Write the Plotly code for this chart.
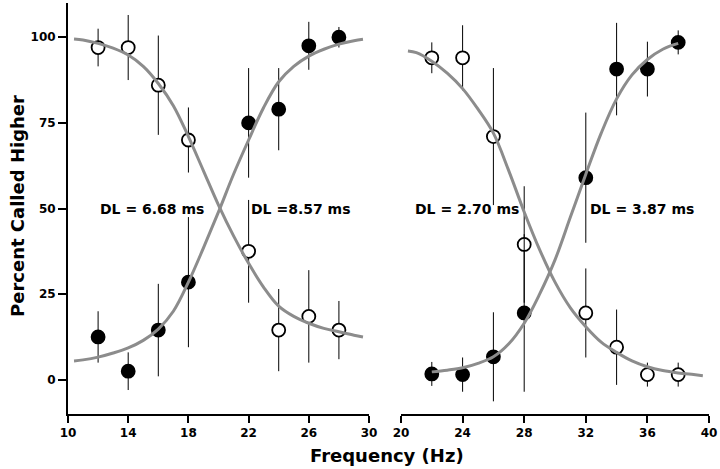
import plotly.graph_objects as go

# left panel (10-30 Hz)
left_x = [12, 14, 16, 18, 22, 24, 26, 28]
left_open_y = [97, 97, 86, 70, 37.5, 14.5, 18.5, 14.5]
left_open_err = [5.5, 9.5, 14.5, 9.5, 15, 12, 13.5, 8.5]
left_fill_y = [12.5, 2.5, 14.5, 28.5, 75, 79, 97.5, 100]
left_fill_err = [7.5, 5.5, 13.5, 19, 16, 12, 7, 3]

left_curve_x = [10.4, 11, 12, 13, 14, 15, 16, 17, 18, 19, 20, 21, 22, 23, 24, 25, 26, 27, 28, 29, 29.6]
left_down_y = [99.5, 99.2, 98.2, 96.8, 94.8, 91.5, 86.5, 80, 71, 61, 51, 42, 34, 27, 21.5, 18.5, 16.5, 15, 14, 13, 12.5]
left_up_y = [5.5, 5.8, 6.6, 7.8, 9.3, 11.5, 14.8, 20, 28.5, 38.5, 49, 60, 70, 79.5, 87, 91.5, 94.5, 96.5, 98, 99, 99.4]

# right panel (20-40 Hz)
right_x = [22, 24, 26, 28, 32, 34, 36, 38]
right_open_y = [94, 94, 71, 39.5, 19.5, 9.5, 1.5, 1.5]
right_open_err = [4.5, 9.5, 20, 17, 13, 11, 3.5, 3.5]
right_fill_y = [1.7, 1.5, 6.7, 19.5, 59, 90.7, 90.7, 98.5]
right_fill_err = [3.5, 5, 13, 23, 19, 13.5, 8, 3.5]

right_down_x = [20.45, 21, 22, 23, 24, 25, 26, 27, 28, 29, 30, 31, 32, 33, 34, 35, 36, 37, 38, 39, 39.6]
right_down_y = [96, 95.5, 93, 89.5, 85, 79, 72, 61, 49, 38, 28.5, 21, 15.5, 11, 8, 5.5, 3.8, 2.7, 2, 1.5, 1.2]
right_up_x = [22, 23, 24, 25, 26, 27, 28, 29, 30, 31, 32, 33, 34, 35, 36, 37, 38]
right_up_y = [2.3, 2.8, 3.5, 4.8, 6.7, 10.5, 16.5, 25, 35, 47.5, 60, 72, 82, 89, 93.5, 96.5, 98.2]

labels = ["DL = 6.68 ms", "DL =8.57 ms", "DL = 2.70 ms", "DL = 3.87 ms"]
label_x = [15.58, 25.48, 24.29, 35.65]
label_axes = ["x", "x", "x2", "x2"]

FONT = "DejaVu Sans"
CURVE = "#8c8c8c"

def points(x, y, err, filled, xa, ya):
    return go.Scatter(x=x, y=y, mode="markers", xaxis=xa, yaxis=ya, showlegend=False,
                      error_y=dict(type="data", array=err, visible=True, color="black", thickness=1, width=0),
                      marker=dict(size=13, color="black" if filled else "white",
                                  line=dict(color="black", width=1.8)))

def curve(x, y, xa, ya):
    return go.Scatter(x=x, y=y, mode="lines", xaxis=xa, yaxis=ya, showlegend=False,
                      line=dict(color=CURVE, width=3, shape="spline"))

data = [
    points(left_x, left_open_y, left_open_err, False, "x", "y"),
    points(left_x, left_fill_y, left_fill_err, True, "x", "y"),
    curve(left_curve_x, left_down_y, "x", "y"),
    curve(left_curve_x, left_up_y, "x", "y"),
    points(right_x, right_open_y, right_open_err, False, "x2", "y2"),
    points(right_x, right_fill_y, right_fill_err, True, "x2", "y2"),
    curve(right_down_x, right_down_y, "x2", "y2"),
    curve(right_up_x, right_up_y, "x2", "y2"),
]

tickfont = dict(family=FONT, size=12, color="black", weight="bold")
xcommon = dict(showline=True, linewidth=2, linecolor="black", ticks="outside", ticklen=7, tickwidth=1.5,
               tickcolor="black", showgrid=False, zeroline=False, tickfont=tickfont)

annotations = [dict(x=lx, y=50, xref=ax, yref="y", text=t, showarrow=False,
                    font=dict(family=FONT, size=14, color="black", weight="bold"))
               for t, lx, ax in zip(labels, label_x, label_axes)]
annotations.append(dict(x=387, y=455, text="Frequency (Hz)", showarrow=False))
annotations.append(dict(x=18, y=206, text="Percent Called Higher", showarrow=False, textangle=-90))

# titles placed by pixel, converted to paper coordinates
for a in annotations[-2:]:
    a["x"] = (a["x"] - 68) / 641
    a["y"] = (469 - 55 - a["y"]) / 411
    a["xref"] = "paper"
    a["yref"] = "paper"
    a["xanchor"] = "center"
    a["yanchor"] = "middle"
    a["font"] = dict(family=FONT, size=18, color="black", weight="bold")

layout = go.Layout(
    width=720, height=469, margin=dict(l=68, r=11, t=3, b=55),
    plot_bgcolor="white", paper_bgcolor="white", hovermode=False,
    xaxis=dict(domain=[0, 0.4696], range=[10, 30], tickvals=[10, 14, 18, 22, 26, 30], anchor="y", **xcommon),
    xaxis2=dict(domain=[0.5195, 1], range=[20, 40], tickvals=[20, 24, 28, 32, 36, 40], anchor="y2", **xcommon),
    yaxis=dict(range=[-10, 110], tickvals=[0, 25, 50, 75, 100], showline=True, linewidth=2, linecolor="black",
               ticks="outside", ticklen=8, tickwidth=1.5, tickcolor="black", showgrid=False, zeroline=False,
               tickfont=tickfont, anchor="x"),
    yaxis2=dict(range=[-10, 110], matches="y", visible=False, anchor="x2", showgrid=False, zeroline=False),
    annotations=annotations,
)

fig = go.Figure(data=data, layout=layout)
fig.write_html("out.html", config={"displayModeBar": False},
               post_script="document.body.style.margin='0';document.body.style.overflow='hidden';")
